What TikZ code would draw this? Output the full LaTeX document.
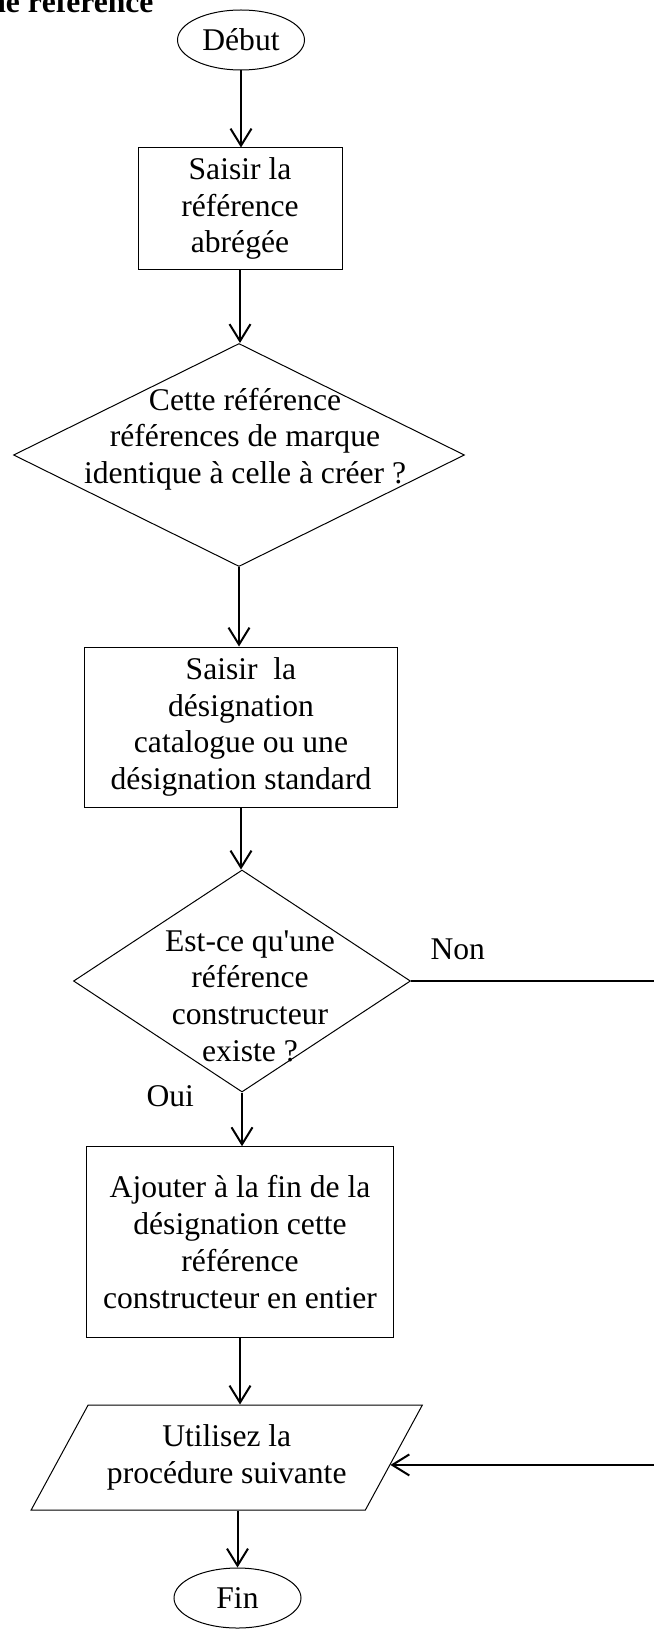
\documentclass[tikz,border=0pt]{standalone}
\usepackage{fontspec}
\setmainfont{Liberation Serif}
\usepackage{tikz}
\usetikzlibrary{shapes.geometric,arrows.meta,calc}

\begin{document}
\begin{tikzpicture}[x=1pt,y=-1pt,
    every node/.style={font=\fontsize{31.6}{36.7}\selectfont},
    terminal/.style={shape=ellipse,draw=black,line width=1pt,minimum width=127pt,minimum height=60pt,inner sep=0pt},
    box/.style={shape=rectangle,draw=black,line width=1pt,align=center,inner sep=0pt},
    decision/.style={shape=diamond,draw=black,line width=1pt,inner sep=0pt},
    inout/.style={shape=trapezium,trapezium left angle=53,trapezium right angle=127,trapezium stretches=true,draw=black,line width=1pt,align=center,inner sep=0pt},
    flow/.style={line width=2pt,-{Straight Barb[length=17pt,width=21pt]}}]
    \useasboundingbox (0,0) rectangle (653,1629);

    \node[font=\fontsize{31.6}{36.7}\selectfont\bfseries,anchor=base east] (titre) at (157,12.3) {une référence};

    \node[terminal] (debut) at (241,40) {Début};
    \node[box,minimum width=204pt,minimum height=121pt] (saisie) at (240,208.5) {Saisir la\\référence\\abrégée};
    \node[decision,minimum width=451pt,minimum height=223pt,
        label={[align=center,xshift=6pt,yshift=16pt]center:Cette référence\\références de marque\\identique à celle à créer ?}] (q1) at (239,455) {};
    \node[box,minimum width=313pt,minimum height=160pt] (design) at (241,727) {Saisir~~la\\désignation\\catalogue ou une\\désignation standard};
    \node[decision,minimum width=337pt,minimum height=222pt,
        label={[align=center,xshift=8pt,yshift=-15pt]center:Est-ce qu\textquotesingle une\\référence\\constructeur\\existe ?}] (q2) at (242,981) {};
    \node[box,minimum width=307pt,minimum height=190.6pt] (ajout) at (240,1242) {Ajouter à la fin de la\\désignation cette\\référence\\constructeur en entier};
    \node[inout,minimum width=393pt,minimum height=105pt] (proc) at (226.75,1457.5) {Utilisez la\\procédure suivante};
    \node[terminal] (fin) at (237.5,1598) {Fin};

    \node[anchor=base west] (non) at (427,959) {Non};
    \node[anchor=base west] (oui) at (143,1106.7) {Oui};
    \coordinate (coude) at (668,981);
    \coordinate (entree) at ($(proc.top right corner)!0.57!(proc.bottom right corner)$);

    \draw[flow] (debut) -- (debut |- saisie.north);
    \draw[flow] (saisie) -- (saisie |- q1.north);
    \draw[flow] (q1) -- (q1 |- design.north);
    \draw[flow] (design) -- (design |- q2.north);
    \draw[flow] (q2) -- (q2 |- ajout.north);
    \draw[flow] (ajout) -- (ajout |- proc.north);
    \draw[flow] (proc.south -| fin) -- (fin);
    \draw[flow] (q2.east) -- (coude) |- (entree);
\end{tikzpicture}
\end{document}
